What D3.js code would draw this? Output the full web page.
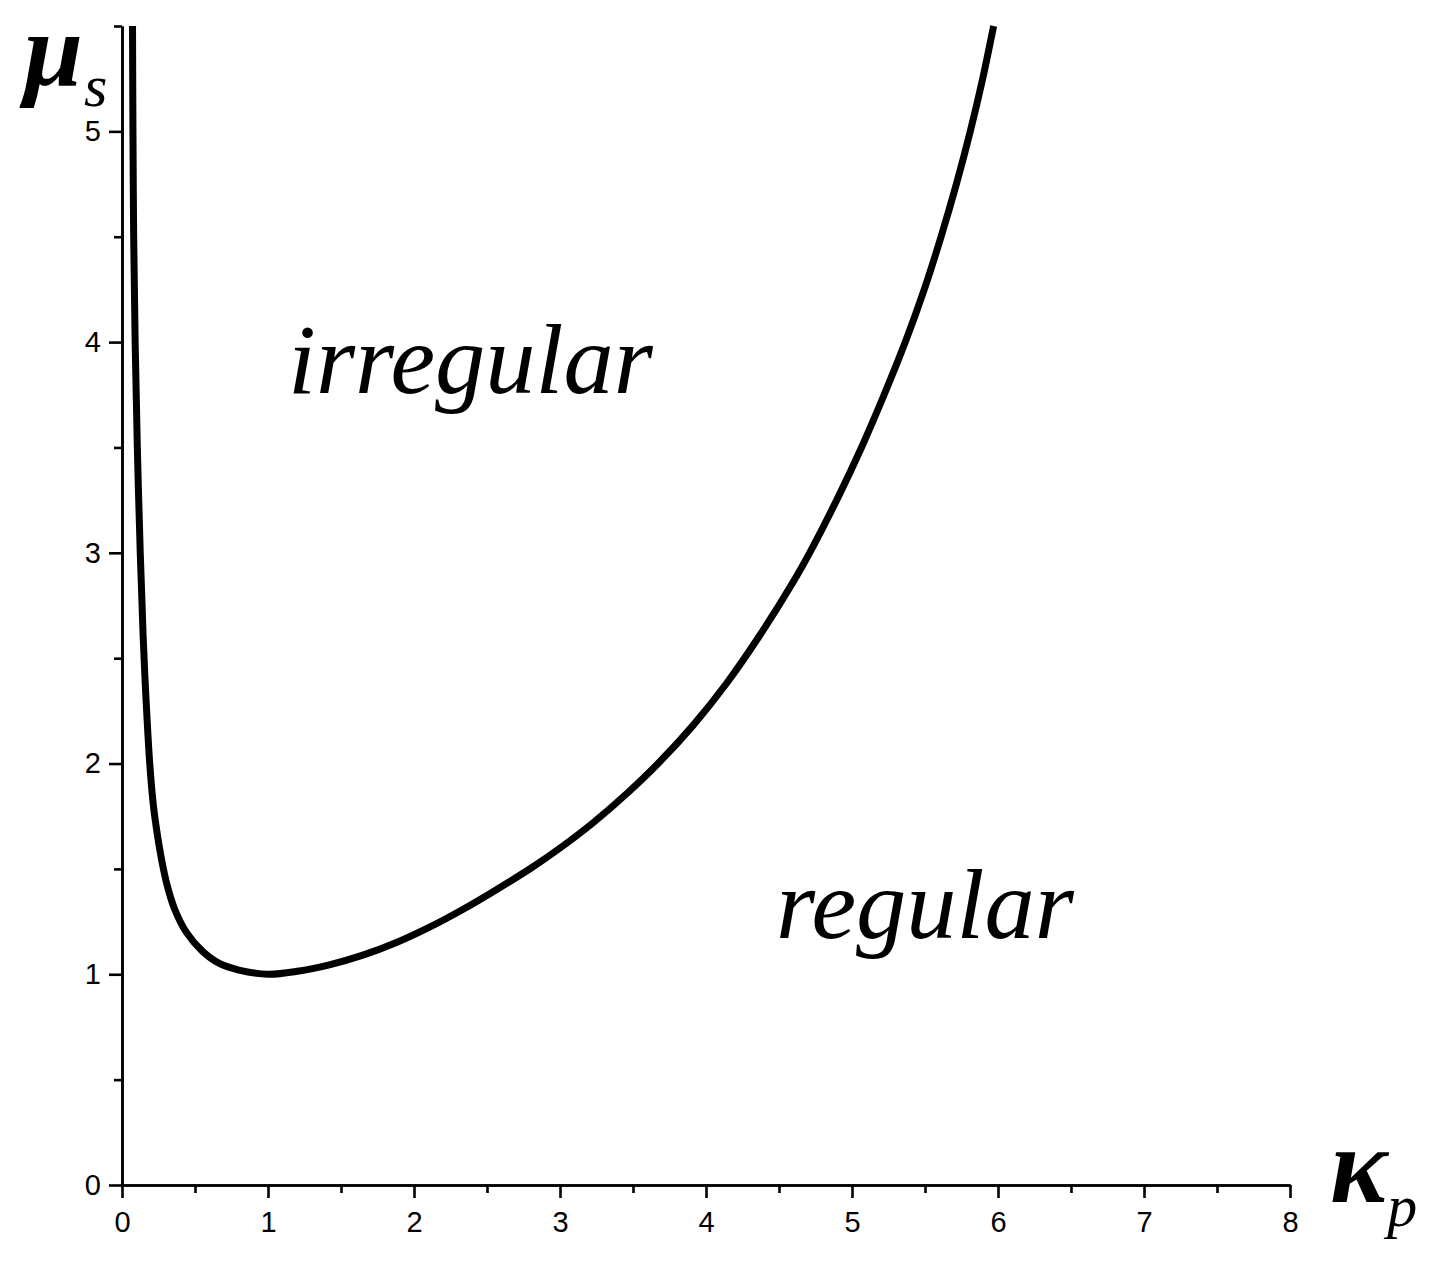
<!DOCTYPE html>
<html>
<head>
<meta charset="utf-8">
<script src="https://cdn.jsdelivr.net/npm/d3@7"></script>
<style>
  html, body { margin: 0; padding: 0; background: #fff; }
  svg { display: block; }
  .tick text { font-family: "Liberation Sans Narrow", "Liberation Sans", Arial, sans-serif; font-size: 29px; fill: #000; }
  .serif { font-family: "Liberation Serif", "Times New Roman", serif; fill: #000; }
</style>
</head>
<body>
<svg id="chart" width="1444" height="1265"></svg>
<script>
// ---- data ----
const kappa = [0.072, 0.075, 0.080, 0.090, 0.105, 0.125, 0.145, 0.165, 0.190, 0.215,
               0.245, 0.275, 0.310, 0.360, 0.440, 0.550, 0.670, 0.800, 1.000, 1.200,
               1.420, 1.650, 1.880, 2.110, 2.340, 2.570, 2.800, 3.010, 3.230, 3.460,
               3.680, 3.910, 4.140, 4.370, 4.600, 4.710, 4.895, 5.065, 5.220, 5.365,
               5.495, 5.610, 5.715, 5.810, 5.895, 5.970];
const mu    = [5.50, 5.00, 4.50, 4.00, 3.50, 3.00, 2.60, 2.30, 2.00, 1.80,
               1.65, 1.53, 1.42, 1.31, 1.20, 1.11, 1.05, 1.02, 1.00, 1.014,
               1.045, 1.091, 1.151, 1.225, 1.310, 1.404, 1.503, 1.604, 1.721, 1.859,
               2.006, 2.180, 2.380, 2.610, 2.865, 3.00, 3.25, 3.50, 3.75, 4.00,
               4.25, 4.50, 4.75, 5.00, 5.25, 5.50];
const xMajorTicks = [0, 1, 2, 3, 4, 5, 6, 7, 8];
const xMinorTicks = [0.5, 1.5, 2.5, 3.5, 4.5, 5.5, 6.5, 7.5];
const yMajorTicks = [0, 1, 2, 3, 4, 5];
const yMinorTicks = [0.5, 1.5, 2.5, 3.5, 4.5, 5.5];
const regionLabels = ["irregular", "regular"];

// ---- chart ----
const svg = d3.select("#chart");
const x = d3.scaleLinear().domain([0, 8]).range([122, 1290]);
const y = d3.scaleLinear().domain([0, 5.5]).range([1185, 26]);

function styleAxis(g) {
  g.selectAll("path.domain").attr("stroke", "#000").attr("stroke-width", 2.6);
  g.selectAll(".tick line").attr("stroke", "#000").attr("stroke-width", 2.6);
}

// minor ticks
svg.append("g").attr("transform", `translate(0,${y(0)})`)
  .call(d3.axisBottom(x).tickValues(xMinorTicks).tickSize(8).tickSizeOuter(0).tickFormat(""))
  .call(styleAxis);
svg.append("g").attr("transform", `translate(${x(0)},0)`)
  .call(d3.axisLeft(y).tickValues(yMinorTicks).tickSize(8).tickSizeOuter(0).tickFormat(""))
  .call(styleAxis);

// major ticks with labels
svg.append("g").attr("transform", `translate(0,${y(0)})`)
  .call(d3.axisBottom(x).tickValues(xMajorTicks).tickSize(13).tickSizeOuter(0).tickPadding(13).tickFormat(d3.format("d")))
  .call(styleAxis)
  .call(g => g.selectAll(".tick text").attr("font-family", null).attr("font-size", null));
svg.append("g").attr("transform", `translate(${x(0)},0)`)
  .call(d3.axisLeft(y).tickValues(yMajorTicks).tickSize(13).tickSizeOuter(0).tickPadding(8).tickFormat(d3.format("d")))
  .call(styleAxis)
  .call(g => g.selectAll(".tick text").attr("font-family", null).attr("font-size", null));

// curve
const pts = kappa.map((k, i) => [k, mu[i]]);
svg.append("path")
  .datum(pts)
  .attr("fill", "none")
  .attr("stroke", "#000")
  .attr("stroke-width", 7)
  .attr("stroke-linejoin", "round")
  .attr("d", d3.line().x(d => x(d[0])).y(d => y(d[1])).curve(d3.curveCatmullRom.alpha(0.5)));

// axis titles
const muT = svg.append("text").attr("class", "serif").attr("x", 24).attr("y", 85);
muT.append("tspan").attr("font-size", 106).attr("font-weight", "bold").attr("font-style", "italic").text("μ");
muT.append("tspan").attr("font-size", 60).attr("font-style", "italic").attr("dx", 1).attr("dy", 21).text("s");

const kT = svg.append("text").attr("class", "serif").attr("x", 1330).attr("y", 1202);
kT.append("tspan").attr("font-size", 108).attr("font-weight", "bold").attr("font-style", "italic").text("κ");
kT.append("tspan").attr("font-size", 60).attr("font-style", "italic").attr("dy", 24).text("p");

// region labels
svg.append("text").attr("class", "serif").attr("x", 288).attr("y", 393)
  .attr("font-size", 100.5).attr("font-style", "italic").text(regionLabels[0]);
svg.append("text").attr("class", "serif").attr("x", 776).attr("y", 938)
  .attr("font-size", 100.5).attr("font-style", "italic").text(regionLabels[1]);
</script>
</body>
</html>
